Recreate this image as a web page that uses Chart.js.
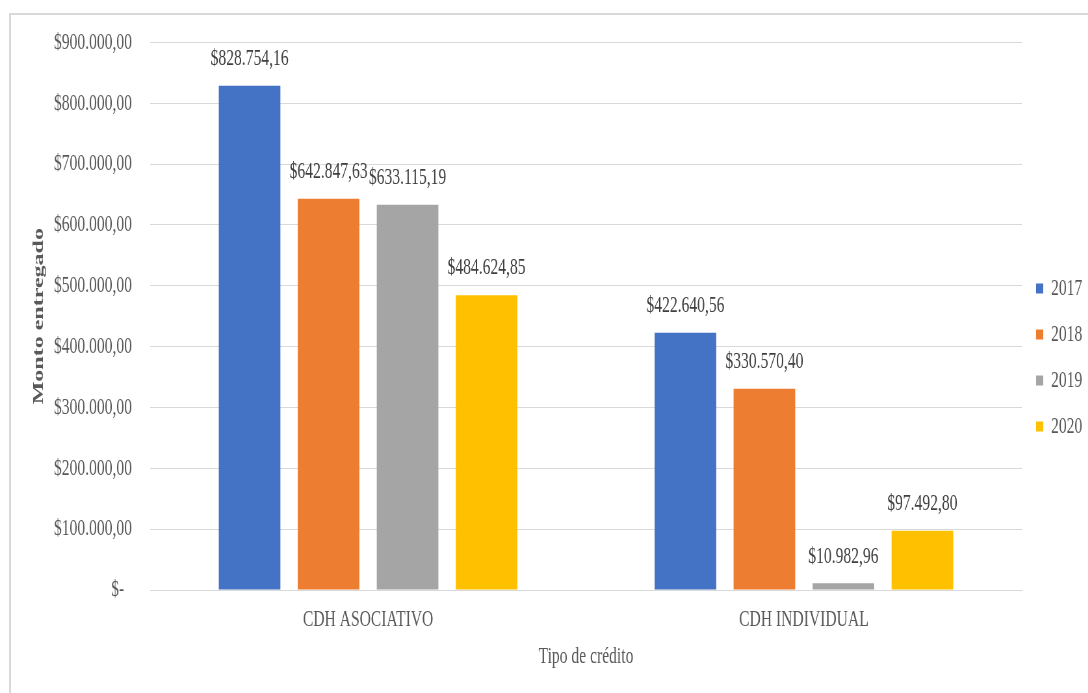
<!DOCTYPE html>
<html>
<head>
<meta charset="utf-8">
<script src="https://cdn.jsdelivr.net/npm/chart.js@4.4.1/dist/chart.umd.min.js"></script>
<style>
  html, body { margin: 0; padding: 0; background: #fff; overflow: hidden; }
  #frame { position: absolute; left: 9px; top: 13px; width: 1100px; height: 700px; border: 2px solid #d9d9d9; }
  /* chart is laid out wide and squeezed horizontally to get the narrow lettering */
  #wrap { position: absolute; left: 0; top: 0; width: 1674px; height: 693px; transform: scaleX(0.65); transform-origin: 0 0; }
</style>
</head>
<body>
<div id="frame"></div>
<div id="wrap"><canvas id="creditChart"></canvas></div>
<script>
// Montos por tipo de crédito y año
const categories = ["CDH ASOCIATIVO", "CDH INDIVIDUAL"];
const years = ["2017", "2018", "2019", "2020"];
const amounts2017 = [828754.16, 422640.56];
const amounts2018 = [642847.63, 330570.40];
const amounts2019 = [633115.19, 10982.96];
const amounts2020 = [484624.85, 97492.80];
const colors = ["#4472c4", "#ed7d31", "#a5a5a5", "#ffc000"];
const yTicks = [0, 100000, 200000, 300000, 400000, 500000, 600000, 700000, 800000, 900000];

const textFont = "'Liberation Serif', 'Times New Roman', serif";

// $828.754,16 style
function formatMoney(v) {
    let parts = v.toFixed(2).split(".");
    let intPart = parts[0].replace(/\B(?=(\d{3})+(?!\d))/g, ".");
    return "$" + intPart + "," + parts[1];
}

// Value labels above each bar
const barLabels = {
    id: "barLabels",
    afterDatasetsDraw(chart) {
        const ctx = chart.ctx;
        ctx.save();
        ctx.font = "24px " + textFont;
        ctx.fillStyle = "#404040";
        ctx.textAlign = "center";
        ctx.textBaseline = "middle";
        chart.data.datasets.forEach((ds, i) => {
            chart.getDatasetMeta(i).data.forEach((bar, j) => {
                ctx.fillText(formatMoney(ds.data[j]), bar.x, bar.y - 27);
            });
        });
        ctx.restore();
    }
};

const allSeries = [amounts2017, amounts2018, amounts2019, amounts2020];

const ctx = document.getElementById("creditChart").getContext("2d");
new Chart(ctx, {
    type: "bar",
    data: {
        labels: categories,
        datasets: allSeries.map((values, i) => ({
            label: years[i],
            data: values,
            backgroundColor: colors[i],
            barPercentage: 0.78,
            categoryPercentage: 0.725
        }))
    },
    options: {
        responsive: true,
        maintainAspectRatio: false,
        animation: false,
        layout: { padding: { top: 36, left: 20, right: 0, bottom: 14 } },
        plugins: {
            tooltip: { enabled: false },
            legend: {
                position: "right",
                maxWidth: 102,
                labels: {
                    boxWidth: 11,
                    boxHeight: 10,
                    padding: 22,
                    color: "#595959",
                    font: { family: textFont, size: 24 }
                }
            }
        },
        scales: {
            x: {
                grid: { display: false, drawTicks: false },
                border: { color: "#d9d9d9", width: 1 },
                ticks: { color: "#595959", padding: 15, font: { family: textFont, size: 24 } },
                title: {
                    display: true,
                    text: "Tipo de crédito",
                    color: "#595959",
                    padding: { top: 0, bottom: 8 },
                    font: { family: textFont, size: 24 }
                },
                afterFit(scale) { scale.height = 89; }
            },
            y: {
                min: 0,
                max: 900000,
                afterBuildTicks(scale) { scale.ticks = yTicks.map(v => ({ value: v })); },
                grid: { color: "#d9d9d9", drawTicks: false },
                border: { display: false },
                ticks: {
                    color: "#595959",
                    padding: 28,
                    font: { family: textFont, size: 24 },
                    callback: v => v === 0 ? "$-  " : formatMoney(v)
                },
                title: {
                    display: true,
                    text: "Monto entregado",
                    color: "#595959",
                    padding: { top: 25, bottom: 0 },
                    font: { family: textFont, size: 24, weight: "bold" }
                },
                afterFit(scale) { scale.width = 211; }
            }
        }
    },
    plugins: [barLabels]
});
</script>
</body>
</html>
